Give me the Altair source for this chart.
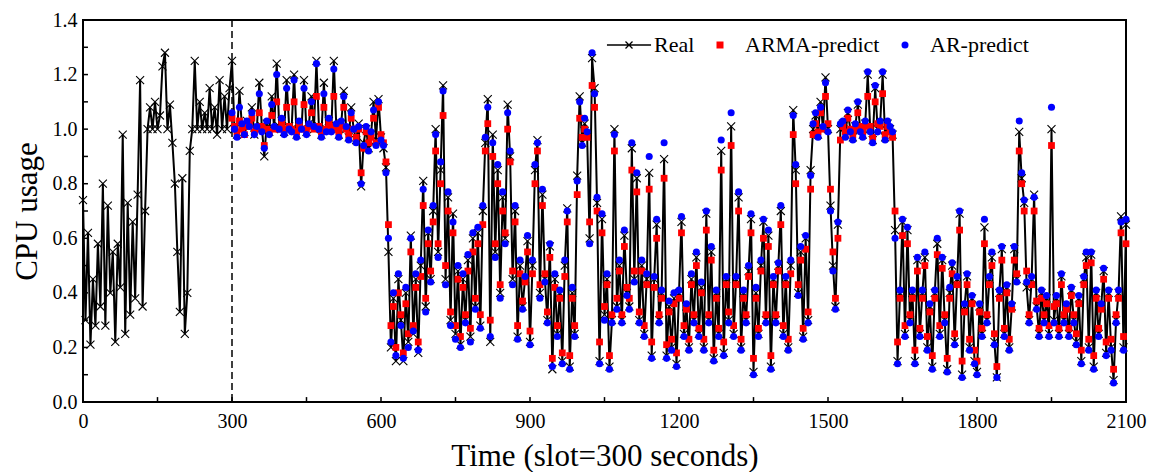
import altair as alt
import pandas as pd

# ---------------- data (one value every 5 slots) ----------------
STEP = 5
PRED_START = 300

real_cpu = [
    0.74,0.30,0.62,0.21,0.45,0.28,0.58,0.35,0.80,0.28,0.72,0.40,0.55,0.22,0.58,0.42,0.98,0.25,0.73,0.32,
    0.66,0.38,0.76,1.18,0.35,0.70,1.00,1.08,1.00,1.10,1.00,1.05,1.23,1.28,1.00,1.09,0.95,0.80,0.55,0.33,
    0.82,0.25,0.40,0.92,1.00,1.25,1.00,1.10,1.00,1.06,1.00,1.15,1.00,1.08,0.98,1.18,1.00,1.12,1.00,1.15,
    1.25,1.00,0.98,1.14,1.01,0.99,1.03,1.02,1.08,0.98,1.00,1.17,1.01,0.90,1.02,0.99,1.12,1.00,1.24,1.01,
    1.03,0.99,1.18,1.01,1.00,1.20,0.98,1.02,1.00,1.18,0.99,1.02,1.12,1.00,1.25,1.01,0.98,1.17,1.00,1.03,
    1.00,1.25,1.01,0.98,1.02,1.14,1.00,0.97,1.08,1.00,0.96,1.02,0.79,0.95,1.00,0.93,0.98,1.10,0.96,1.11,
    0.97,0.93,0.86,0.55,0.20,0.38,0.15,0.45,0.30,0.15,0.40,0.22,0.61,0.25,0.45,0.18,0.50,0.81,0.35,0.62,
    0.45,0.70,1.00,0.55,0.85,1.16,0.45,0.75,0.30,0.69,0.25,0.48,0.21,0.45,0.30,0.52,0.24,0.60,0.35,0.62,
    0.28,0.70,0.95,1.11,0.22,0.98,0.55,0.85,0.40,0.75,0.60,1.09,0.90,0.45,0.70,0.24,0.50,0.35,0.45,0.59,
    0.22,0.50,0.85,0.96,0.40,0.76,0.45,0.30,0.57,0.12,0.45,0.25,0.40,0.15,0.50,0.71,0.13,0.40,0.25,0.83,
    1.12,0.95,1.02,0.98,0.60,1.26,1.15,0.73,0.15,0.67,0.32,0.45,0.13,0.30,1.00,0.35,0.50,0.30,0.61,0.40,
    0.35,0.93,0.45,0.82,0.30,0.50,0.25,0.45,0.84,0.17,0.45,0.65,0.30,0.40,0.89,0.17,0.35,0.20,0.38,0.14,
    0.40,0.66,0.25,0.35,0.20,0.45,0.30,0.53,0.25,0.42,0.20,0.69,0.30,0.55,0.16,0.40,0.25,0.92,0.18,0.45,
    0.30,1.01,0.25,0.45,0.75,0.20,0.40,0.30,0.48,0.67,0.11,0.40,0.25,0.50,0.66,0.30,0.61,0.13,0.45,0.30,
    0.50,0.70,0.25,0.45,0.20,0.50,1.07,0.85,0.40,0.55,0.24,0.60,0.30,0.85,1.00,1.05,0.98,1.10,1.00,1.19,
    1.00,0.72,0.50,0.35,0.65,1.00,1.02,0.98,1.06,1.00,0.97,1.01,1.09,1.00,0.98,1.02,1.20,1.00,0.96,1.15,
    1.00,1.02,1.20,0.97,1.02,1.00,0.98,0.63,0.15,0.40,0.66,0.25,0.63,0.30,0.40,0.15,0.52,0.25,0.40,0.53,
    0.20,0.35,0.13,0.40,0.58,0.25,0.52,0.30,0.12,0.40,0.50,0.22,0.45,0.69,0.10,0.35,0.46,0.20,0.38,0.15,
    0.11,0.35,0.25,0.64,0.30,0.45,0.53,0.22,0.09,0.40,0.56,0.25,0.42,0.20,0.35,0.56,0.45,0.99,0.82,0.73,
    0.42,0.30,0.45,0.76,0.35,0.25,0.40,0.30,0.38,0.25,1.00,0.30,0.38,0.25,0.46,0.30,0.35,0.25,0.41,0.30,
    0.22,0.38,0.15,0.45,0.53,0.20,0.54,0.13,0.40,0.25,0.35,0.48,0.18,0.40,0.20,0.08,0.30,0.40,0.68,0.20,
    0.65,
]

arma_pred = [
    1.04,1.01,0.99,1.03,1.00,0.98,1.01,1.02,1.04,0.99,1.00,1.06,1.01,0.94,1.00,0.99,1.05,1.00,1.10,1.00,
    1.02,1.00,1.08,1.01,1.00,1.10,0.99,1.01,1.00,1.09,1.00,1.01,1.06,1.00,1.12,1.01,0.99,1.08,1.00,1.02,
    1.01,1.12,1.00,0.99,1.01,1.08,1.00,0.98,1.04,1.00,0.97,1.00,0.84,0.93,0.99,0.95,0.97,1.04,0.95,1.08,
    0.98,0.95,0.88,0.65,0.28,0.35,0.20,0.40,0.32,0.18,0.36,0.25,0.55,0.28,0.42,0.22,0.46,0.72,0.38,0.58,
    0.48,0.66,0.92,0.58,0.80,1.05,0.50,0.70,0.33,0.62,0.28,0.45,0.24,0.42,0.32,0.48,0.27,0.55,0.38,0.58,
    0.32,0.65,0.92,1.02,0.30,0.90,0.58,0.80,0.43,0.70,0.62,1.00,0.88,0.48,0.66,0.28,0.47,0.37,0.44,0.55,
    0.26,0.47,0.80,0.92,0.43,0.72,0.47,0.33,0.53,0.16,0.42,0.28,0.38,0.18,0.46,0.66,0.17,0.38,0.28,0.76,
    1.04,0.97,1.00,0.97,0.66,1.16,1.08,0.70,0.22,0.62,0.35,0.43,0.17,0.32,0.92,0.38,0.48,0.32,0.57,0.42,
    0.38,0.85,0.48,0.77,0.33,0.48,0.28,0.43,0.78,0.22,0.42,0.60,0.32,0.38,0.82,0.21,0.33,0.23,0.36,0.18,
    0.38,0.62,0.28,0.34,0.23,0.43,0.32,0.50,0.27,0.40,0.23,0.63,0.32,0.52,0.19,0.38,0.27,0.85,0.22,0.43,
    0.33,0.94,0.28,0.43,0.70,0.23,0.38,0.32,0.46,0.62,0.16,0.38,0.27,0.48,0.60,0.32,0.57,0.17,0.43,0.32,
    0.48,0.65,0.28,0.43,0.23,0.47,0.98,0.80,0.43,0.52,0.27,0.56,0.33,0.78,0.98,1.02,0.99,1.06,1.00,1.12,
    1.02,0.78,0.55,0.38,0.60,0.96,1.01,0.99,1.04,1.00,0.98,1.00,1.06,1.01,0.99,1.01,1.12,1.01,0.97,1.10,
    1.02,1.01,1.13,0.98,1.01,0.99,0.97,0.70,0.22,0.38,0.61,0.28,0.58,0.32,0.38,0.19,0.48,0.27,0.38,0.50,
    0.24,0.33,0.17,0.38,0.54,0.28,0.49,0.32,0.16,0.38,0.47,0.25,0.43,0.63,0.15,0.33,0.43,0.23,0.36,0.19,
    0.15,0.33,0.27,0.58,0.32,0.43,0.50,0.25,0.13,0.38,0.52,0.27,0.40,0.23,0.34,0.52,0.47,0.92,0.80,0.70,
    0.48,0.32,0.43,0.70,0.37,0.27,0.38,0.32,0.36,0.28,0.94,0.35,0.36,0.27,0.43,0.32,0.34,0.27,0.39,0.32,
    0.25,0.36,0.19,0.43,0.50,0.23,0.51,0.17,0.38,0.27,0.34,0.45,0.22,0.38,0.23,0.12,0.32,0.38,0.62,0.24,
    0.58,
]

ar_pred = [
    1.06,1.00,0.97,1.08,1.02,0.98,1.03,1.01,1.06,0.98,1.01,1.13,0.99,0.93,1.03,0.98,1.09,1.01,1.20,1.00,
    1.04,0.98,1.15,1.00,0.99,1.18,0.97,1.03,1.00,1.15,0.98,1.02,1.10,1.01,1.24,1.00,0.97,1.13,0.99,1.04,
    0.99,1.22,1.02,0.97,1.03,1.12,1.01,0.96,1.06,1.00,0.95,1.01,0.80,0.94,1.01,0.92,0.99,1.07,0.94,1.10,
    0.96,0.94,0.84,0.60,0.22,0.40,0.17,0.47,0.28,0.16,0.42,0.20,0.60,0.26,0.47,0.19,0.52,0.78,0.33,0.63,
    0.44,0.72,0.98,0.53,0.88,1.14,0.43,0.77,0.28,0.66,0.23,0.50,0.20,0.47,0.29,0.54,0.22,0.62,0.34,0.64,
    0.27,0.72,0.97,1.08,0.24,0.95,0.53,0.87,0.38,0.77,0.58,1.06,0.92,0.43,0.72,0.23,0.52,0.34,0.46,0.61,
    0.21,0.52,0.87,0.95,0.38,0.78,0.44,0.29,0.58,0.13,0.47,0.24,0.41,0.14,0.52,0.70,0.12,0.42,0.24,0.81,
    1.10,0.94,1.04,0.99,0.58,1.28,1.13,0.75,0.14,0.69,0.30,0.47,0.12,0.29,0.98,0.34,0.52,0.29,0.63,0.39,
    0.34,0.95,0.44,0.84,0.29,0.52,0.24,0.47,0.90,0.16,0.46,0.67,0.29,0.41,0.95,0.16,0.37,0.19,0.40,0.13,
    0.41,0.68,0.24,0.36,0.19,0.47,0.29,0.55,0.24,0.44,0.19,0.70,0.29,0.57,0.15,0.41,0.24,0.96,0.17,0.46,
    0.29,1.06,0.24,0.46,0.77,0.19,0.41,0.29,0.50,0.69,0.10,0.42,0.24,0.52,0.67,0.29,0.63,0.12,0.46,0.29,
    0.51,0.72,0.24,0.46,0.19,0.52,1.05,0.87,0.39,0.57,0.23,0.61,0.29,0.83,1.02,1.06,0.97,1.08,1.01,1.17,
    0.99,0.70,0.48,0.34,0.66,1.02,1.03,0.97,1.07,0.99,0.96,1.02,1.10,0.99,0.97,1.03,1.21,0.99,0.95,1.16,
    0.99,1.03,1.21,0.96,1.03,1.01,0.99,0.60,0.14,0.41,0.67,0.24,0.64,0.29,0.41,0.14,0.53,0.24,0.41,0.55,
    0.19,0.36,0.12,0.41,0.60,0.24,0.53,0.29,0.11,0.42,0.51,0.21,0.46,0.70,0.09,0.36,0.47,0.19,0.39,0.14,
    0.10,0.36,0.24,0.67,0.29,0.46,0.55,0.21,0.09,0.41,0.57,0.24,0.43,0.19,0.36,0.57,0.44,1.03,0.84,0.74,
    0.44,0.29,0.46,0.75,0.34,0.24,0.41,0.29,0.39,0.24,1.08,0.29,0.39,0.24,0.47,0.29,0.36,0.24,0.42,0.29,
    0.21,0.39,0.14,0.46,0.55,0.19,0.55,0.12,0.41,0.24,0.36,0.49,0.17,0.41,0.19,0.07,0.29,0.41,0.66,0.19,
    0.67,
]

series_names = ["Real", "ARMA-predict", "AR-predict"]
series_fill = ["transparent", "#ff0000", "#0000ff"]
series_stroke = ["#000000", "transparent", "transparent"]
series_legend_shape = ["M-6.3,0L6.3,0M-1,-1L1,1M-1,1L1,-1", "square", "circle"]
x_label_values = [0, 300, 600, 900, 1200, 1500, 1800, 2100]
x_tick_values = [0, 150, 300, 450, 600, 750, 900, 1050, 1200, 1350, 1500, 1650, 1800, 1950, 2100]
y_label_values = [0.0, 0.2, 0.4, 0.6, 0.8, 1.0, 1.2, 1.4]
y_tick_values = [0.0, 0.1, 0.2, 0.3, 0.4, 0.5, 0.6, 0.7, 0.8, 0.9, 1.0, 1.1, 1.2, 1.3, 1.4]

# ---------------- tables ----------------
real_df = pd.DataFrame({"t": [i * STEP for i in range(len(real_cpu))], "v": real_cpu})
arma_df = pd.DataFrame({"t": [PRED_START + i * STEP for i in range(len(arma_pred))], "v": arma_pred})
ar_df = pd.DataFrame({"t": [PRED_START + i * STEP for i in range(len(ar_pred))], "v": ar_pred})
legend_df = pd.DataFrame({"series": series_names})

FONT = "Liberation Serif"
xs = alt.Scale(domain=[0, 2100], nice=False, zero=False)
ys = alt.Scale(domain=[0, 1.4], nice=False)

x_axis = alt.Axis(values=x_label_values, format="d", title="Time (slot=300 seconds)",
                  ticks=False, tickSize=0, domain=False, grid=False, labelFlush=False,
                  labelOverlap=False, labelFont=FONT, labelFontSize=20, labelColor="black",
                  labelPadding=9, titleFont=FONT, titleFontSize=31, titleFontWeight="normal",
                  titleColor="black", titlePadding=10)
y_axis = alt.Axis(values=y_label_values, format=".1f", title="CPU usage",
                  ticks=False, tickSize=0, domain=False, grid=False, labelFlush=False,
                  labelOverlap=False, labelFont=FONT, labelFontSize=20, labelColor="black",
                  labelPadding=6, titleFont=FONT, titleFontSize=31, titleFontWeight="normal",
                  titleColor="black", titlePadding=9)

X = alt.X("t:Q", scale=xs, axis=x_axis)
Y = alt.Y("v:Q", scale=ys, axis=y_axis)

# inward tick marks
xtick_layer = alt.Chart(pd.DataFrame({"t": x_tick_values})).mark_rule(
    color="black", strokeWidth=1.5).encode(
    x=X, y=alt.YDatum(0, scale=ys, axis=y_axis), y2=alt.Y2Datum(0.018))
ytick_layer = alt.Chart(pd.DataFrame({"v": y_tick_values})).mark_rule(
    color="black", strokeWidth=1.5).encode(
    y=Y, x=alt.XDatum(0, scale=xs, axis=x_axis), x2=alt.X2Datum(10))

split_layer = alt.Chart(pd.DataFrame({"t": [PRED_START]})).mark_rule(
    color="black", strokeWidth=1.5, strokeDash=[7, 4]).encode(x=X)

real_line = alt.Chart(real_df).mark_line(color="black", strokeWidth=2).encode(x=X, y=Y)
real_pts = alt.Chart(real_df).mark_point(
    shape="M-1,-1L1,1M-1,1L1,-1", size=64, color="black", filled=False,
    strokeWidth=1.1, opacity=1).encode(x=X, y=Y)
arma_pts = alt.Chart(arma_df).mark_square(color="#ff0000", size=46, opacity=1).encode(x=X, y=Y)
ar_pts = alt.Chart(ar_df).mark_circle(color="#0000ff", size=50, opacity=1).encode(x=X, y=Y)

# legend-only layer: its points sit outside the axes' domain and are clipped away
legend = alt.Legend(
    title=None, orient="none", legendX=535, legendY=14, direction="horizontal",
    labelFont=FONT, labelFontSize=22, labelColor="black", labelOffset=14,
    symbolSize=49, symbolStrokeWidth=1.3, symbolOpacity=1, columnPadding=14, padding=0)
legend_layer = alt.Chart(legend_df).mark_point(
    filled=True, clip=True, opacity=1, strokeWidth=1.3, size=49).encode(
    x=alt.XDatum(-500, scale=xs, axis=x_axis),
    y=alt.YDatum(-1, scale=ys, axis=y_axis),
    shape=alt.Shape("series:N", scale=alt.Scale(domain=series_names, range=series_legend_shape),
                    legend=legend),
    fill=alt.Fill("series:N", scale=alt.Scale(domain=series_names, range=series_fill),
                  legend=legend),
    stroke=alt.Stroke("series:N", scale=alt.Scale(domain=series_names, range=series_stroke),
                      legend=legend),
)

chart = alt.layer(
    xtick_layer, ytick_layer, split_layer, real_line, real_pts, arma_pts, ar_pts, legend_layer
).properties(
    width=1043, height=382,
    autosize=alt.AutoSizeParams(type="none"),
    padding={"left": 83, "top": 20, "right": 25, "bottom": 70},
    background="white",
).configure(
    font=FONT
).configure_axis(
    labelFont=FONT, titleFont=FONT
).configure_legend(
    labelFont=FONT
).configure_view(stroke="black", strokeWidth=2)

chart.save("out.html", embed_options={"renderer": "svg", "actions": False})
